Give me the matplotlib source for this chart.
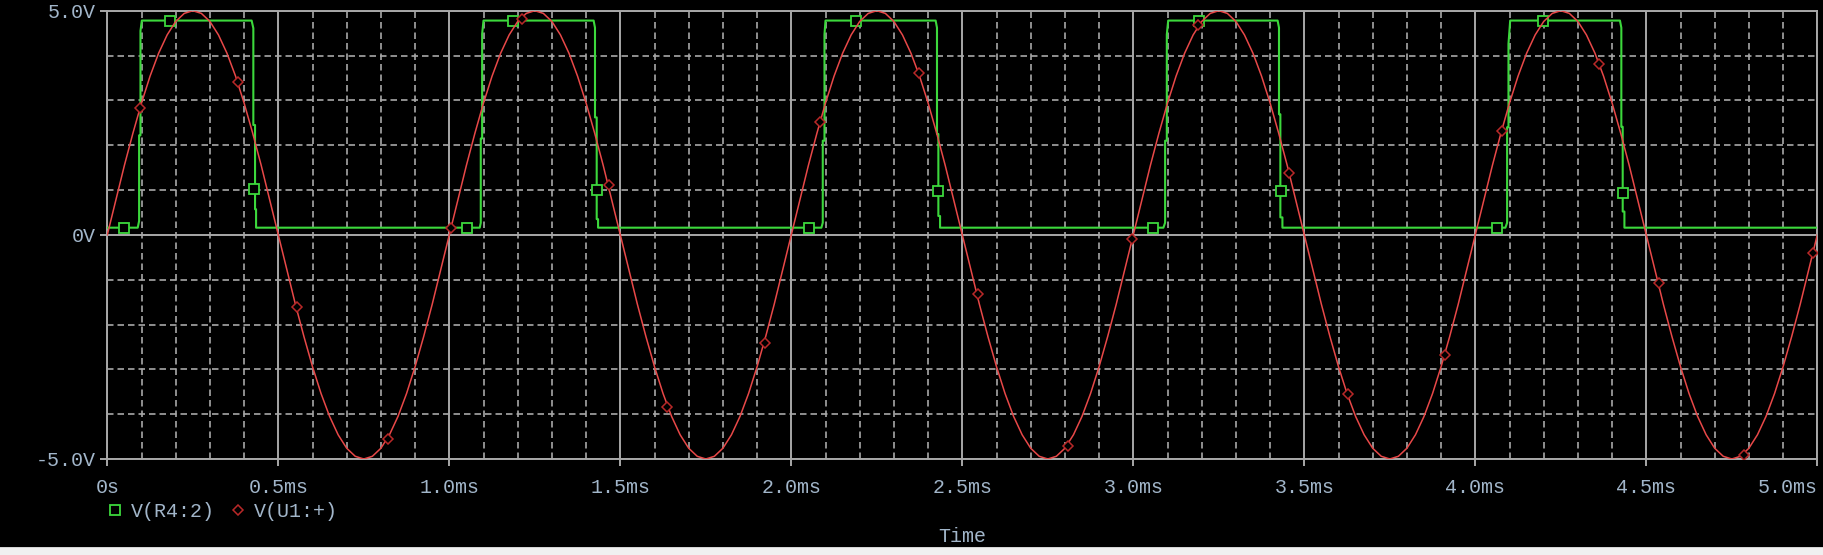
import numpy as np
import matplotlib
matplotlib.use("Agg")
import matplotlib.pyplot as plt
from matplotlib.lines import Line2D
from matplotlib.patches import Rectangle

# V(U1:+) read every 0.025 ms from 0 to 5 ms
red_v = [
    0.00, 0.78, 1.55, 2.27, 2.94, 3.54, 4.05, 4.46, 4.76, 4.94,
    5.00, 4.94, 4.76, 4.46, 4.05, 3.54, 2.94, 2.27, 1.55, 0.78,
    0.00, -0.78, -1.55, -2.27, -2.94, -3.54, -4.05, -4.46, -4.76, -4.94,
    -5.00, -4.94, -4.76, -4.46, -4.05, -3.54, -2.94, -2.27, -1.55, -0.78,
    0.00, 0.78, 1.55, 2.27, 2.94, 3.54, 4.05, 4.46, 4.76, 4.94,
    5.00, 4.94, 4.76, 4.46, 4.05, 3.54, 2.94, 2.27, 1.55, 0.78,
    0.00, -0.78, -1.55, -2.27, -2.94, -3.54, -4.05, -4.46, -4.76, -4.94,
    -5.00, -4.94, -4.76, -4.46, -4.05, -3.54, -2.94, -2.27, -1.55, -0.78,
    0.00, 0.78, 1.55, 2.27, 2.94, 3.54, 4.05, 4.46, 4.76, 4.94,
    5.00, 4.94, 4.76, 4.46, 4.05, 3.54, 2.94, 2.27, 1.55, 0.78,
    0.00, -0.78, -1.55, -2.27, -2.94, -3.54, -4.05, -4.46, -4.76, -4.94,
    -5.00, -4.94, -4.76, -4.46, -4.05, -3.54, -2.94, -2.27, -1.55, -0.78,
    0.00, 0.78, 1.55, 2.27, 2.94, 3.54, 4.05, 4.46, 4.76, 4.94,
    5.00, 4.94, 4.76, 4.46, 4.05, 3.54, 2.94, 2.27, 1.55, 0.78,
    0.00, -0.78, -1.55, -2.27, -2.94, -3.54, -4.05, -4.46, -4.76, -4.94,
    -5.00, -4.94, -4.76, -4.46, -4.05, -3.54, -2.94, -2.27, -1.55, -0.78,
    0.00, 0.78, 1.55, 2.27, 2.94, 3.54, 4.05, 4.46, 4.76, 4.94,
    5.00, 4.94, 4.76, 4.46, 4.05, 3.54, 2.94, 2.27, 1.55, 0.78,
    0.00, -0.78, -1.55, -2.27, -2.94, -3.54, -4.05, -4.46, -4.76, -4.94,
    -5.00, -4.94, -4.76, -4.46, -4.05, -3.54, -2.94, -2.27, -1.55, -0.78,
    0.00,
]
red_t = np.linspace(0, 5, len(red_v))

# V(R4:2) breakpoints (ms, V)
green_t = [0.000,
           0.089, 0.093, 0.093, 0.097, 0.097, 0.101,
           0.422, 0.427, 0.427, 0.432, 0.432, 0.435, 0.435,
           1.089, 1.092, 1.092, 1.096, 1.096, 1.100,
           1.422, 1.426, 1.426, 1.431, 1.431, 1.435, 1.435,
           2.088, 2.092, 2.092, 2.097, 2.097, 2.100,
           2.422, 2.426, 2.426, 2.430, 2.430, 2.435, 2.435,
           3.088, 3.093, 3.093, 3.098, 3.098, 3.102,
           3.422, 3.426, 3.426, 3.430, 3.430, 3.436, 3.436,
           4.088, 4.093, 4.093, 4.097, 4.097, 4.102,
           4.423, 4.427, 4.427, 4.431, 4.431, 4.436, 4.436,
           5.000]
green_v = [0.16,
           0.16, 0.31, 2.22, 2.22, 4.55, 4.78,
           4.78, 4.61, 2.45, 2.45, 0.57, 0.57, 0.16,
           0.16, 0.27, 2.15, 2.15, 4.48, 4.78,
           4.78, 4.62, 2.62, 2.62, 0.35, 0.35, 0.16,
           0.16, 0.27, 2.10, 2.10, 4.47, 4.78,
           4.78, 4.62, 2.25, 2.25, 0.42, 0.42, 0.16,
           0.16, 0.27, 2.10, 2.10, 4.47, 4.78,
           4.78, 4.62, 2.69, 2.69, 0.39, 0.39, 0.16,
           0.16, 0.27, 2.40, 2.40, 4.26, 4.78,
           4.78, 4.62, 2.41, 2.41, 0.52, 0.52, 0.16,
           0.16]

green_mk_t = [0.049, 0.184, 0.430, 1.053, 1.187, 1.431, 2.053, 2.189, 2.430,
              3.057, 3.193, 3.431, 4.063, 4.199, 4.431]
green_mk_v = [0.16, 4.78, 1.03, 0.16, 4.78, 1.00, 0.16, 4.78, 0.97,
              0.16, 4.78, 0.97, 0.16, 4.78, 0.94]

red_mk_t = [0.0965, 0.383, 0.554, 0.820, 1.004, 1.212, 1.466, 1.637, 1.922,
            2.084, 2.374, 2.545, 2.808, 2.997, 3.190, 3.456, 3.628, 3.912,
            4.079, 4.361, 4.536, 4.786, 4.987]
red_mk_v = [2.82, 3.42, -1.61, -4.55, 0.16, 4.81, 1.11, -3.83, -2.42,
            2.51, 3.62, -1.31, -4.72, -0.10, 4.67, 1.37, -3.56, -2.69,
            2.32, 3.82, -1.08, -4.90, -0.41]

x_ticks = [0, 0.5, 1.0, 1.5, 2.0, 2.5, 3.0, 3.5, 4.0, 4.5, 5.0]
x_labels = ["0s", "0.5ms", "1.0ms", "1.5ms", "2.0ms", "2.5ms", "3.0ms",
            "3.5ms", "4.0ms", "4.5ms", "5.0ms"]
y_ticks = [-5, 0, 5]
y_labels = ["-5.0V", "0V", "5.0V"]

GREEN = "#3cd83c"
RED = "#e84848"
RED_MK = "#b82828"
GRID = "#a8a8a8"
TXT = "#a2b6ca"
FONT = "Liberation Mono"
FS = 14.4

W, H = 1824, 555
fig = plt.figure(figsize=(W / 100, H / 100), dpi=100, facecolor="black")
ax = fig.add_axes([107.3 / W, 1 - 459 / H, 1710 / W, 448.3 / H])
ax.set_facecolor("black")

ax.set_xlim(0, 5)
ax.set_ylim(-5, 5)
ax.set_xticks(x_ticks)
ax.set_xticklabels(x_labels)
ax.set_xticks(np.arange(0, 5.01, 0.1), minor=True)
ax.set_yticks(y_ticks)
ax.set_yticklabels(y_labels)
ax.set_yticks(np.arange(-5, 5.01, 1), minor=True)

ax.grid(which="major", color=GRID, lw=1.4, ls="-")
ax.grid(which="minor", color=GRID, lw=1.2, dashes=(3.9, 2.4))
ax.set_axisbelow(True)
for s in ax.spines.values():
    s.set_color(GRID)
    s.set_linewidth(1.4)

ax.tick_params(which="major", direction="out", length=5, width=1.4, color=GRID,
               labelcolor=TXT, labelsize=FS)
ax.tick_params(axis="x", which="major", pad=9)
ax.tick_params(axis="y", which="major", pad=3)
ax.tick_params(which="minor", length=0)
for lbl in ax.get_xticklabels() + ax.get_yticklabels():
    lbl.set_fontfamily(FONT)
ax.get_xticklabels()[-1].set_ha("right")
ax.get_xticklabels()[-1].set_x(5.0)

ax.plot(green_t, green_v, color=GREEN, lw=1.5, zorder=3)
ax.plot(green_mk_t, green_mk_v, ls="none", marker="s", ms=6.8, mfc="black",
        mec=GREEN, mew=1.3, zorder=4)
ax.plot(red_t, red_v, color=RED, lw=1.1, zorder=5)
ax.plot(red_mk_t, red_mk_v, ls="none", marker="D", ms=5.0, mfc="black",
        mec=RED_MK, mew=1.1, zorder=6)

handles = [
    Line2D([], [], ls="none", marker="s", ms=6.8, mfc="black", mec=GREEN, mew=1.3),
    Line2D([], [], ls="none", marker="D", ms=5.0, mfc="black", mec=RED_MK, mew=1.1),
]
fig.legend(handles, ["V(R4:2)", "V(U1:+)"], ncol=2, frameon=False,
           loc="center left", bbox_to_anchor=(107 / W, 1 - 511.7 / H),
           borderpad=0, borderaxespad=0, handlelength=0.8, handletextpad=0.4,
           columnspacing=0.75, labelcolor=TXT,
           prop={"family": FONT, "size": FS})

fig.text(962.3 / W, 1 - 536 / H, "Time", ha="center", va="center",
         color=TXT, fontsize=FS, family=FONT)

fig.patches.append(Rectangle((0, 0), 1, 7 / H, transform=fig.transFigure,
                             facecolor="#f0f0f0", edgecolor="none", zorder=0))
fig.patches.append(Rectangle((0, 7 / H), 1, 1 / H, transform=fig.transFigure,
                             facecolor="#d4d4d4", edgecolor="none", zorder=0))

fig.savefig("out.png", dpi=100, facecolor="black")
